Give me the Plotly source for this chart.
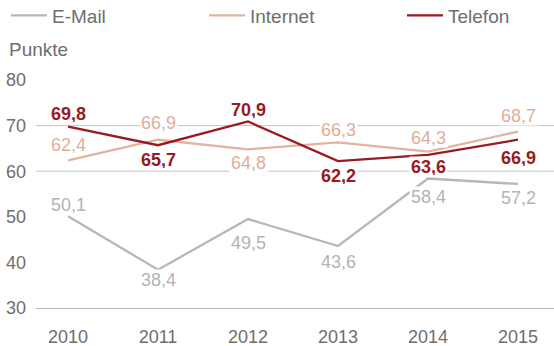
import plotly.graph_objects as go

years = [2010, 2011, 2012, 2013, 2014, 2015]
email = [50.1, 38.4, 49.5, 43.6, 58.4, 57.2]
internet = [62.4, 66.9, 64.8, 66.3, 64.3, 68.7]
telefon = [69.8, 65.7, 70.9, 62.2, 63.6, 66.9]
y_ticks = [30, 40, 50, 60, 70, 80]
grid_values = [60, 70]

# label offsets in px (positive = below the point)
email_off = [-12, 10, 23, 16, 18, 14]
internet_off = [-16, -17, 13, -13, -14, -16]
telefon_off = [-13.5, 14.5, -12, 14.5, 11.6, 18]

C_EMAIL = "#b7b7b7"
C_INTERNET = "#e2b4a0"
C_TELEFON = "#9a1a21"
C_TEXT = "#6e6e6e"
FONT = "Liberation Sans, Arial, sans-serif"

fig = go.Figure()
series = [
    ("E-Mail", email, C_EMAIL, email_off, "#b3b3b3", "normal", "legend", 6),
    ("Internet", internet, C_INTERNET, internet_off, "#e0ae98", "normal", "legend2", 204),
    ("Telefon", telefon, C_TELEFON, telefon_off, C_TELEFON, "bold", "legend3", 402),
]
for name, vals, col, offs, lcol, w, lg, lx in series:
    fig.add_trace(go.Scatter(x=years, y=vals, name=name, mode="lines", legend=lg,
                             line=dict(color=col, width=2.3), hoverinfo="skip"))

for name, vals, col, offs, lcol, w, lg, lx in series:
    for x, v, o in zip(years, vals, offs):
        fig.add_annotation(x=x, y=v, text=f"{v:.1f}".replace(".", ","),
                           showarrow=False, yshift=-o,
                           font=dict(family=FONT, size=18, color=lcol, weight=w),
                           bgcolor="white", borderpad=1, height=17)

for g in grid_values:
    fig.add_shape(type="line", xref="paper", x0=0, x1=1, y0=g, y1=g,
                  line=dict(color="#c4c4c4", width=1), layer="below")

fig.add_annotation(xref="paper", yref="paper", x=0, y=1, xanchor="left",
                   yanchor="middle", xshift=-29, yshift=31, text="Punkte",
                   showarrow=False, font=dict(family=FONT, size=19, color=C_TEXT))

legends = {}
for name, vals, col, offs, lcol, w, lg, lx in series:
    legends[lg] = dict(orientation="h", xref="container", yref="container",
                       x=lx / 554, y=1 - 15.5 / 346, xanchor="left", yanchor="middle",
                       font=dict(family=FONT, size=19, color=C_TEXT),
                       itemwidth=36, bgcolor="rgba(0,0,0,0)")

fig.update_layout(
    width=554, height=346,
    margin=dict(l=36, r=0, t=79.6, b=38.3),
    paper_bgcolor="white", plot_bgcolor="white",
    font=dict(family=FONT, color=C_TEXT, size=18),
    showlegend=True,
    **legends,
    xaxis=dict(range=[2009.644, 2015.4], tickvals=years, ticktext=[str(y) for y in years],
               showgrid=False, zeroline=False, showline=True, linecolor="#b5b5b5",
               linewidth=1, ticks="", ticklabelstandoff=12,
               tickfont=dict(family=FONT, size=18, color=C_TEXT)),
    yaxis=dict(range=[30, 80], tickvals=y_ticks, showgrid=False, zeroline=False,
               showline=False, ticks="", ticklabelstandoff=9,
               tickfont=dict(family=FONT, size=18, color=C_TEXT)),
)

fig.write_html("out.html")
